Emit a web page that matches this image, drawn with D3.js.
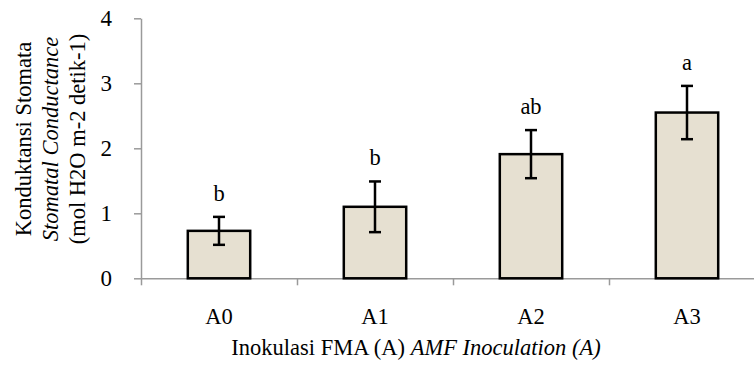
<!DOCTYPE html>
<html>
<head>
<meta charset="utf-8">
<script src="https://cdn.jsdelivr.net/npm/d3@7"></script>
<style>
  body { margin: 0; background: #fff; }
  text { font-family: "Liberation Serif", "Times New Roman", serif; fill: #000; }
</style>
</head>
<body>
<script>
//chart data
var categories = ["A0", "A1", "A2", "A3"];
var values = [0.73, 1.10, 1.91, 2.55];
var errors = [0.215, 0.39, 0.37, 0.41];
var letters = ["b", "b", "ab", "a"];
var yTicks = [0, 1, 2, 3, 4];

var width = 754, height = 366;
var plotLeft = 141, plotRight = 765, plotTop = 18.3, plotBottom = 278.3;
var fontSize = "22.5px";
var serif = "Liberation Serif, Times New Roman, serif";

var svg = d3.select("body").append("svg")
  .attr("width", width)
  .attr("height", height);

var x = d3.scaleBand()
  .domain(categories)
  .range([plotLeft, plotRight])
  .paddingInner(0.6)
  .paddingOuter(0.3);

var y = d3.scaleLinear()
  .domain([0, 4])
  .range([plotBottom, plotTop]);

//y axis
var yAxis = svg.append("g")
  .attr("transform", "translate(" + plotLeft + ",0)")
  .call(d3.axisLeft(y).tickValues(yTicks).tickFormat(d3.format("d"))
    .tickSizeInner(7).tickSizeOuter(0).tickPadding(22))
  .attr("font-family", serif)
  .attr("font-size", 23);
yAxis.select(".domain").attr("stroke", "#9a9a9a").attr("stroke-width", 1.5);
yAxis.selectAll(".tick line").attr("stroke", "#9a9a9a").attr("stroke-width", 1.5);

//x axis, ticks on the category boundaries
var xb = d3.scaleLinear().domain([0, categories.length]).range([plotLeft, plotRight]);
var xAxis = svg.append("g")
  .attr("transform", "translate(0," + plotBottom + ")")
  .call(d3.axisBottom(xb).tickValues(d3.range(categories.length + 1)).tickFormat("").tickSizeInner(7).tickSizeOuter(0));
xAxis.select(".domain").attr("stroke", "#9a9a9a").attr("stroke-width", 1.5);
xAxis.selectAll(".tick line").attr("stroke", "#9a9a9a").attr("stroke-width", 1.5);

svg.append("g").selectAll("text")
  .data(categories)
  .enter().append("text")
  .attr("x", function(d) { return x(d) + x.bandwidth() / 2; })
  .attr("y", 324)
  .attr("text-anchor", "middle")
  .style("font-size", fontSize)
  .text(function(d) { return d; });

//bars
svg.append("g").selectAll("rect")
  .data(values)
  .enter().append("rect")
  .attr("x", function(d, i) { return x(categories[i]); })
  .attr("y", function(d) { return y(d); })
  .attr("width", x.bandwidth())
  .attr("height", function(d) { return y(0) - y(d); })
  .attr("fill", "#e6e0d1")
  .attr("stroke", "#000")
  .attr("stroke-width", 2.5);

//error bars
var eb = svg.append("g").attr("stroke", "#000").attr("stroke-width", 2.5);
values.forEach(function(v, i) {
  var cx = x(categories[i]) + x.bandwidth() / 2;
  var y1 = y(v + errors[i]), y2 = y(v - errors[i]);
  eb.append("line").attr("x1", cx).attr("x2", cx).attr("y1", y1).attr("y2", y2);
  eb.append("line").attr("x1", cx - 6).attr("x2", cx + 6).attr("y1", y1).attr("y2", y1);
  eb.append("line").attr("x1", cx - 6).attr("x2", cx + 6).attr("y1", y2).attr("y2", y2);
});

//significance letters
svg.append("g").selectAll("text")
  .data(letters)
  .enter().append("text")
  .attr("x", function(d, i) { return x(categories[i]) + x.bandwidth() / 2; })
  .attr("y", function(d, i) { return y(values[i] + errors[i]) - 16; })
  .attr("text-anchor", "middle")
  .style("font-size", fontSize)
  .text(function(d) { return d; });

//axis titles
var yt = svg.append("text")
  .attr("transform", "translate(0,139) rotate(-90)")
  .attr("text-anchor", "middle")
  .style("font-size", fontSize);
yt.append("tspan").attr("x", 0).attr("y", 31).text("Konduktansi Stomata");
yt.append("tspan").attr("x", 0).attr("y", 58).style("font-style", "italic").text("Stomatal Conductance");
yt.append("tspan").attr("x", 0).attr("y", 85).text("(mol H2O m-2 detik-1)");

var xt = svg.append("text")
  .attr("x", 416)
  .attr("y", 355)
  .attr("text-anchor", "middle")
  .style("font-size", fontSize);
xt.append("tspan").text("Inokulasi FMA (A)  ");
xt.append("tspan").style("font-style", "italic").text("AMF Inoculation (A)");
</script>
</body>
</html>
